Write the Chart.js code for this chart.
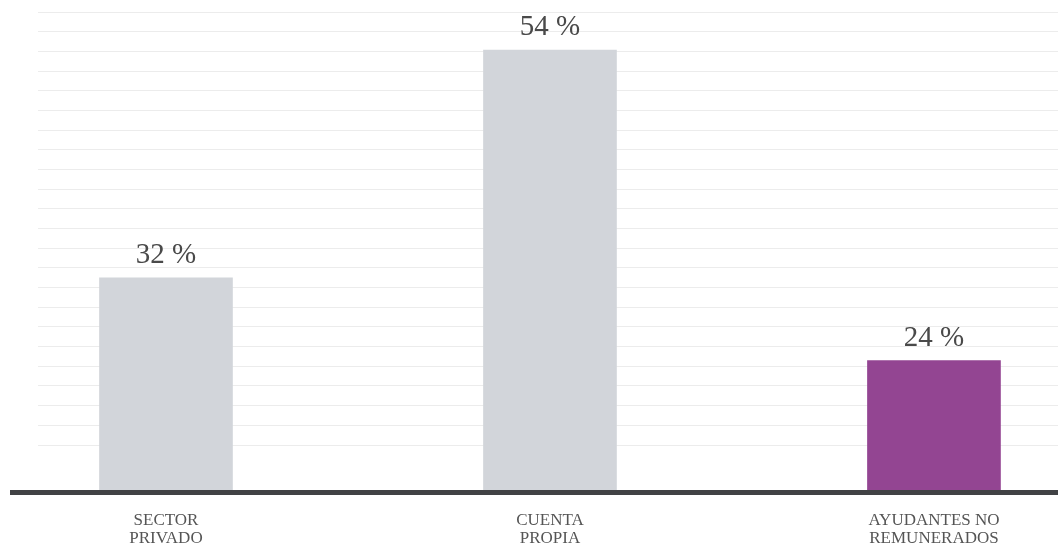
<!DOCTYPE html>
<html>
<head>
<meta charset="utf-8">
<script src="https://cdn.jsdelivr.net/npm/chart.js@4.4.1/dist/chart.umd.min.js"></script>
<style>
  html, body { margin: 0; padding: 0; background: #fff; }
  #wrap { width: 1058px; height: 548px; }
</style>
</head>
<body>
<div id="wrap"><canvas id="myChart" width="1058" height="548"></canvas></div>
<script>
// data
const categories = [['SECTOR', 'PRIVADO'], ['CUENTA', 'PROPIA'], ['AYUDANTES NO', 'REMUNERADOS']]
const shares = [32, 54, 24]
const barColors = ['#d2d5da', '#d2d5da', '#934592']

// axis window (the original does not start at zero)
const yMin = 11.5
const yMax = 57.68
const gridStep = 1.9015
const gridCount = 23

const textColor = '#4a4a4a'

// value labels above each bar
const valueLabels = {
  id: 'valueLabels',
  afterDatasetsDraw(chart) {
    const ctx = chart.ctx
    const meta = chart.getDatasetMeta(0)
    ctx.save()
    ctx.font = '29px "Liberation Serif", "Times New Roman", serif'
    ctx.fillStyle = textColor
    ctx.textAlign = 'center'
    ctx.textBaseline = 'alphabetic'
    meta.data.forEach((bar, i) => {
      ctx.fillText(shares[i] + ' %', bar.x, bar.y - 15)
    })
    ctx.restore()
  }
}

// thick dark baseline, runs a bit further left than the grid
const baseline = {
  id: 'baseline',
  afterDatasetsDraw(chart) {
    const ctx = chart.ctx
    const area = chart.chartArea
    ctx.save()
    ctx.strokeStyle = '#414245'
    ctx.lineWidth = 5
    ctx.beginPath()
    ctx.moveTo(10, area.bottom + 2.5)
    ctx.lineTo(area.right, area.bottom + 2.5)
    ctx.stroke()
    ctx.restore()
  }
}

new Chart(document.getElementById('myChart'), {
  type: 'bar',
  data: {
    datasets: [{
      data: shares.map((v, i) => ({ x: i, y: v })),
      backgroundColor: barColors,
      borderWidth: 0,
      barThickness: 133
    }]
  },
  options: {
    responsive: false,
    animation: false,
    devicePixelRatio: 1,
    layout: { padding: { left: 38, right: 0, top: 12, bottom: 0 } },
    plugins: { legend: { display: false }, tooltip: { enabled: false } },
    scales: {
      x: {
        type: 'linear',
        min: -0.3333,
        max: 2.323,
        offset: false,
        grid: { display: false, drawTicks: false, offset: false },
        border: { display: false },
        afterFit: (scale) => { scale.height = 58 },
        ticks: {
          stepSize: 1,
          includeBounds: false,
          autoSkip: false,
          maxRotation: 0,
          padding: 22,
          color: '#555555',
          font: { family: '"Liberation Serif", "Times New Roman", serif', size: 17, lineHeight: 1.05 },
          callback: (v) => categories[v] || ''
        }
      },
      y: {
        min: yMin,
        max: yMax,
        afterBuildTicks: (scale) => {
          const t = []
          for (let k = 0; k < gridCount; k++) t.push({ value: yMax - k * gridStep })
          scale.ticks = t
        },
        grid: { color: '#ececec', lineWidth: 1, drawTicks: false },
        border: { display: false },
        ticks: { display: false }
      }
    }
  },
  plugins: [valueLabels, baseline]
})
</script>
</body>
</html>
